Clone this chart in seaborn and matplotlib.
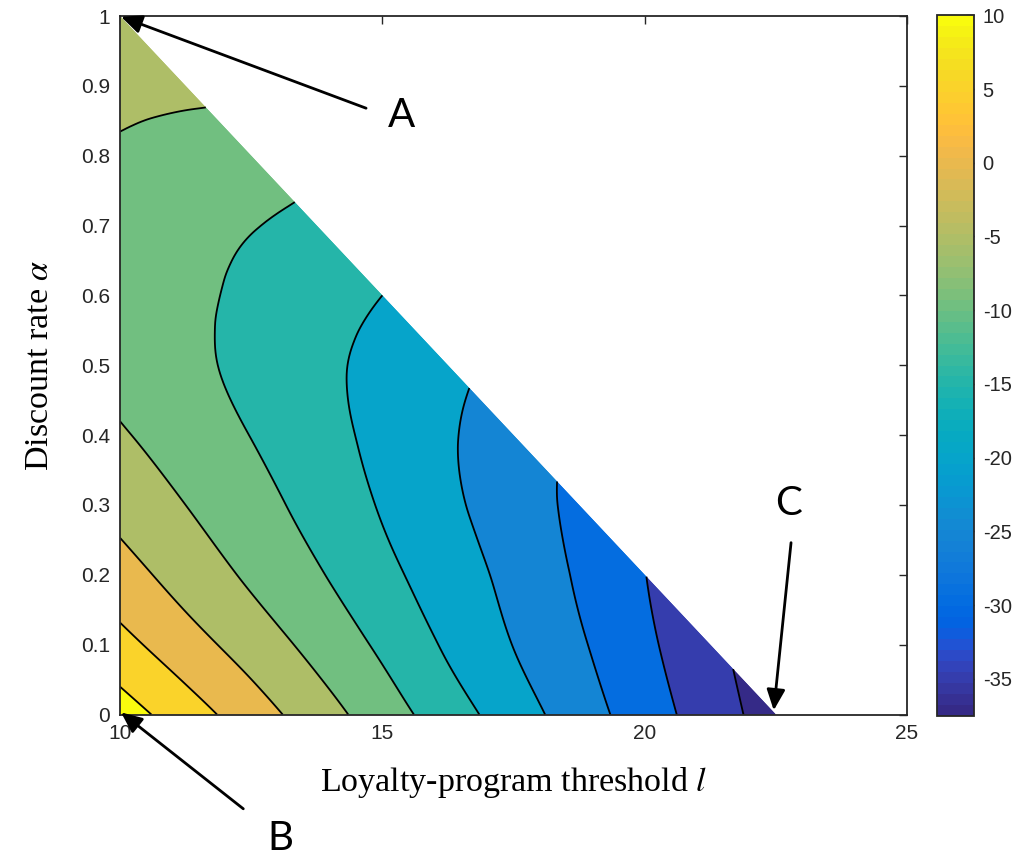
import numpy as np
import matplotlib
matplotlib.use("Agg")
import matplotlib.pyplot as plt
import matplotlib.tri as mtri
from matplotlib.colors import ListedColormap, Normalize
from matplotlib.cm import ScalarMappable
import seaborn as sns

# ---- data -----------------------------------------------------------------
# loyalty-program threshold l (x) and discount rate alpha (y) sample points
l_values = [10.0, 11.25, 12.5, 13.75, 15.0, 16.25, 17.5, 18.75, 20.0, 21.25, 22.5]
alpha_values = [0.0, 0.1, 0.2, 0.3, 0.4, 0.5, 0.6, 0.7, 0.8, 0.9, 1.0]

# profit difference on each alpha row, feasible region alpha <= 1 - (l - 10) / 12.5
v_a00 = [12.4, 7.4, 2.4, -2.6, -7.6, -12.6, -17.6, -22.6, -27.6, -32.5, -37.5]
v_a01 = [6.6, 2.1, -2.2, -6.5, -10.9, -15.7, -20.1, -24.4, -29.0, -33.7]
v_a02 = [2.0, -2.0, -5.8, -9.5, -13.6, -17.6, -21.4, -25.6, -29.9]
v_a03 = [-1.6, -5.0, -8.2, -11.7, -15.4, -19.0, -22.6, -26.2]
v_a04 = [-4.5, -7.3, -10.1, -13.2, -16.3, -19.5, -22.5]
v_a05 = [-6.6, -8.9, -11.2, -13.8, -16.3, -18.8]
v_a06 = [-7.5, -9.1, -10.9, -12.95, -15.0]
v_a07 = [-7.1, -8.5, -9.8, -11.3]
v_a08 = [-5.6, -6.6, -7.3]
v_a09 = [-4.0, -4.2]
v_a10 = [-2.8]
value_rows = [v_a00, v_a01, v_a02, v_a03, v_a04, v_a05,
              v_a06, v_a07, v_a08, v_a09, v_a10]

contour_levels = [-35, -30, -25, -20, -15, -10, -5, 0, 5, 10]
color_limits = [-37.5, 10.0]
colorbar_ticks = [-35, -30, -25, -20, -15, -10, -5, 0, 5, 10]
x_ticks = [10, 15, 20, 25]
y_ticks = [0, 0.1, 0.2, 0.3, 0.4, 0.5, 0.6, 0.7, 0.8, 0.9, 1.0]

# MATLAB parula colormap
parula_data = [
    [0.2081, 0.1663, 0.5292], [0.2116, 0.1898, 0.5777], [0.2123, 0.2138, 0.6270],
    [0.2081, 0.2386, 0.6771], [0.1959, 0.2645, 0.7279], [0.1707, 0.2919, 0.7792],
    [0.1253, 0.3242, 0.8303], [0.0591, 0.3598, 0.8683], [0.0117, 0.3875, 0.8820],
    [0.0060, 0.4086, 0.8828], [0.0165, 0.4266, 0.8786], [0.0329, 0.4430, 0.8720],
    [0.0498, 0.4586, 0.8641], [0.0629, 0.4737, 0.8554], [0.0723, 0.4887, 0.8467],
    [0.0779, 0.5040, 0.8384], [0.0793, 0.5200, 0.8312], [0.0749, 0.5375, 0.8263],
    [0.0641, 0.5570, 0.8240], [0.0488, 0.5772, 0.8228], [0.0343, 0.5966, 0.8199],
    [0.0265, 0.6137, 0.8135], [0.0239, 0.6287, 0.8038], [0.0231, 0.6418, 0.7913],
    [0.0228, 0.6535, 0.7768], [0.0267, 0.6642, 0.7607], [0.0384, 0.6743, 0.7436],
    [0.0590, 0.6838, 0.7254], [0.0843, 0.6928, 0.7062], [0.1133, 0.7015, 0.6859],
    [0.1453, 0.7098, 0.6646], [0.1801, 0.7177, 0.6424], [0.2178, 0.7250, 0.6193],
    [0.2586, 0.7317, 0.5954], [0.3022, 0.7376, 0.5712], [0.3482, 0.7424, 0.5473],
    [0.3953, 0.7459, 0.5244], [0.4420, 0.7481, 0.5033], [0.4871, 0.7491, 0.4840],
    [0.5300, 0.7491, 0.4661], [0.5709, 0.7485, 0.4494], [0.6099, 0.7473, 0.4337],
    [0.6473, 0.7456, 0.4188], [0.6834, 0.7435, 0.4044], [0.7184, 0.7411, 0.3905],
    [0.7525, 0.7384, 0.3768], [0.7858, 0.7356, 0.3633], [0.8185, 0.7327, 0.3498],
    [0.8507, 0.7299, 0.3360], [0.8824, 0.7274, 0.3217], [0.9139, 0.7258, 0.3063],
    [0.9450, 0.7261, 0.2886], [0.9739, 0.7314, 0.2666], [0.9938, 0.7455, 0.2403],
    [0.9990, 0.7653, 0.2164], [0.9955, 0.7861, 0.1967], [0.9880, 0.8066, 0.1794],
    [0.9789, 0.8271, 0.1633], [0.9697, 0.8481, 0.1475], [0.9626, 0.8705, 0.1309],
    [0.9589, 0.8949, 0.1132], [0.9598, 0.9218, 0.0948], [0.9661, 0.9514, 0.0755],
    [0.9763, 0.9831, 0.0538],
]
parula = ListedColormap(parula_data, name="parula")

# ---- style ----------------------------------------------------------------
sns.set_theme(style="white")
plt.rcParams["font.family"] = ["Liberation Sans", "DejaVu Sans"]
plt.rcParams["mathtext.fontset"] = "stix"
plt.rcParams["axes.unicode_minus"] = False
plt.rcParams["contour.negative_linestyle"] = "solid"
frame_color = "#262626"

fig = plt.figure(figsize=(10.28, 8.59), dpi=100)
W, H = 1028, 859
ax = fig.add_axes([120 / W, (H - 714.5) / H, 787 / W, 698.5 / H])
cax = fig.add_axes([936.7 / W, (H - 715.7) / H, 37.6 / W, 700.4 / H])

# ---- triangular grid over the feasible region -------------------------------
pts_l, pts_a, pts_v = [], [], []
index = {}
for j, row in enumerate(value_rows):
    for k, v in enumerate(row):
        index[(j, k)] = len(pts_l)
        pts_l.append(l_values[k])
        pts_a.append(alpha_values[j])
        pts_v.append(v)

triangles = []
n = len(l_values) - 1
for j in range(n):
    for k in range(n - j):
        triangles.append([index[(j, k)], index[(j, k + 1)], index[(j + 1, k)]])
        if j + k <= n - 2:
            triangles.append([index[(j, k + 1)], index[(j + 1, k + 1)], index[(j + 1, k)]])

tri = mtri.Triangulation(pts_l, pts_a, triangles)
z = np.array(pts_v)
interp = mtri.CubicTriInterpolator(tri, z, kind="min_E")
refiner = mtri.UniformTriRefiner(tri)
tri_fine, v_fine = refiner.refine_field(z, triinterpolator=interp, subdiv=4)

norm = Normalize(vmin=color_limits[0], vmax=color_limits[1])
fill_levels = [-100] + contour_levels + [100]
fill_colors = [parula(norm(color_limits[0]))] + [parula(norm(c)) for c in contour_levels]

# filled bands (drawn twice to close hairline seams between patches)
for _ in range(2):
    ax.tricontourf(tri_fine, v_fine, levels=fill_levels, colors=fill_colors, antialiased=True)
ax.tricontour(tri_fine, v_fine, levels=contour_levels, colors="black",
              linewidths=1.3, linestyles="solid")

# ---- axes -----------------------------------------------------------------
ax.set_xlim(10, 25)
ax.set_ylim(0, 1)
ax.set_xticks(x_ticks)
ax.set_xticklabels([f"{t:g}" for t in x_ticks])
ax.set_yticks(y_ticks)
ax.set_yticklabels([f"{t:g}" for t in y_ticks])
ax.tick_params(direction="in", length=6, width=1.0, colors=frame_color,
               labelsize=15, top=True, right=True, pad=7)
ax.tick_params(axis="both", labelcolor=frame_color)
for s in ax.spines.values():
    s.set_color(frame_color)
    s.set_linewidth(1.3)
ax.set_facecolor("white")

serif = ["Liberation Serif", "DejaVu Serif"]
ax.set_xlabel(r"Loyalty-program threshold $l$", fontsize=24.5, family=serif,
              color="black", labelpad=16)
ax.set_ylabel(r"Discount rate $\alpha$", fontsize=24.5, family=serif,
              color="black", labelpad=19)

# ---- colorbar ---------------------------------------------------------------
sm = ScalarMappable(norm=norm, cmap=parula)
cb = fig.colorbar(sm, cax=cax, ticks=colorbar_ticks)
cb.ax.set_yticklabels([f"{t:g}" for t in colorbar_ticks])
cb.ax.tick_params(direction="in", length=6, width=1.0, colors=frame_color,
                  labelsize=14.5, pad=6)
cb.outline.set_edgecolor(frame_color)
cb.outline.set_linewidth(1.3)

# ---- annotated points ---------------------------------------------------------
arrow = dict(arrowstyle="-|>,head_length=0.9,head_width=0.4", color="black",
             lw=2.0, mutation_scale=14, shrinkA=0, shrinkB=0)
marks = [
    ("A", (10.02, 0.999), (14.69, 0.868), (15.36, 0.858)),
    ("B", (10.02, 0.003), (12.35, -0.135), (13.05, -0.178)),
    ("C", (22.46, 0.006), (22.79, 0.246), (22.75, 0.302)),
]
for label, tip, tail, text_pos in marks:
    ax.annotate("", xy=tip, xytext=tail, arrowprops=arrow, annotation_clip=False)
    ax.text(text_pos[0], text_pos[1], label, fontsize=29, family=["Lato", "DejaVu Sans"],
            ha="center", va="center", color="black", clip_on=False)

fig.savefig("out.png", dpi=100)
